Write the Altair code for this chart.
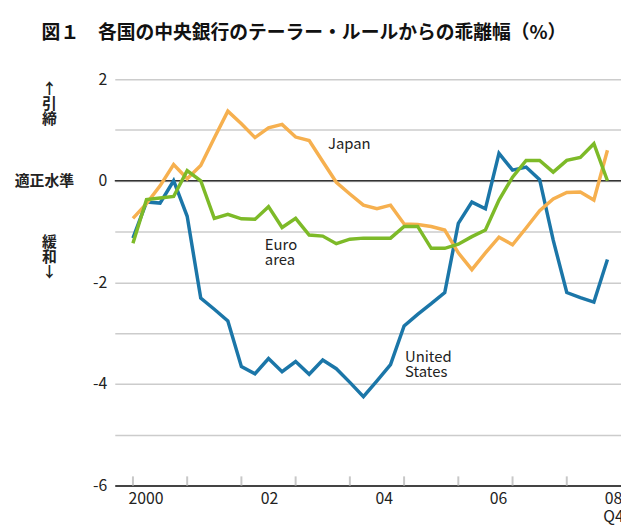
import altair as alt
import pandas as pd

# Quarterly observations 2000Q1 .. 2008Q4 (index 0..35)
quarters = list(range(36))
united_states = [-1.13, -0.42, -0.44, 0.00, -0.70, -2.31, -2.53, -2.76, -3.66, -3.80,
                 -3.50, -3.76, -3.56, -3.81, -3.53, -3.70, -3.97, -4.25, -3.94, -3.62,
                 -2.86, -2.63, -2.42, -2.20, -0.84, -0.42, -0.55, 0.54, 0.21, 0.27,
                 0.02, -1.17, -2.20, -2.30, -2.39, -1.55]
japan = [-0.74, -0.45, -0.10, 0.32, 0.04, 0.30, 0.84, 1.37, 1.12, 0.85,
         1.04, 1.11, 0.86, 0.79, 0.38, -0.03, -0.26, -0.48, -0.55, -0.48,
         -0.85, -0.86, -0.90, -0.97, -1.42, -1.75, -1.42, -1.11, -1.26, -0.93,
         -0.59, -0.36, -0.23, -0.22, -0.38, 0.60]
euro_area = [-1.23, -0.37, -0.34, -0.31, 0.20, 0.00, -0.74, -0.66, -0.75, -0.76,
             -0.51, -0.92, -0.74, -1.07, -1.09, -1.24, -1.15, -1.13, -1.13, -1.13,
             -0.90, -0.90, -1.33, -1.33, -1.25, -1.10, -0.97, -0.38, 0.07, 0.40,
             0.40, 0.17, 0.40, 0.46, 0.73, 0.00]

series_names = ["Euro area", "Japan", "United States"]
series_colors = ["#7dba28", "#f6b04f", "#1b76a8"]

# axis decoration values
y_ticks = [-6, -5, -4, -3, -2, -1, 0, 1, 2]
tick_quarters = [0, 4, 8, 12, 16, 20, 24, 28, 32]
year_labels = ["2000", "02", "04", "06", "08\nQ4"]
year_label_q = [0.96, 10.08, 18.54, 26.96, 35.45]

# in-plot annotations (value = first line's position)
note_texts = ["Japan", "Euro\narea", "United\nStates"]
note_q = [14.39, 9.73, 20.07]
note_v = [0.73, -1.26, -3.48]

# side labels (value = first line's position)
side_texts = ["↑\n引\n締", "適正水準", "緩\n和\n↓"]
side_q = [-6.16, -6.53, -6.16]
side_v = [1.80, 0.0, -1.21]

TITLE = "図１　各国の中央銀行のテーラー・ルールからの乖離幅（%）"
FONT = "Noto Sans CJK JP"

rows = []
for name, vals in [("United States", united_states), ("Japan", japan), ("Euro area", euro_area)]:
    for q, v in zip(quarters, vals):
        rows.append({"q": q, "v": v, "series": name})
df = pd.DataFrame(rows)

xscale = alt.Scale(domain=[-1.34, 36], nice=False, zero=False)
yscale = alt.Scale(domain=[-6, 2], nice=False, zero=False)

x_axis = alt.Axis(title=None, labels=False, ticks=False, grid=False,
                  domain=True, domainColor="#444444", domainWidth=2)
y_axis = alt.Axis(title=None, values=y_ticks, grid=True, gridColor="#cccccc",
                  gridWidth=1.5, domain=False, ticks=False, labelPadding=8,
                  labelFontSize=16, labelColor="#222222", labelFont=FONT,
                  labelExpr="datum.value % 2 == 0 ? '' + datum.value : ''")

base = alt.Chart(df)

zero_rule = alt.Chart(pd.DataFrame({"v": [0]})).mark_rule(
    color="#333333", strokeWidth=1.5
).encode(y=alt.Y("v:Q", scale=yscale, axis=y_axis))

tick_df = pd.DataFrame({"q": tick_quarters, "lo": [-6] * len(tick_quarters),
                        "hi": [-5.82] * len(tick_quarters)})
ticks = alt.Chart(tick_df).mark_rule(color="#c8c8c8", strokeWidth=2).encode(
    x=alt.X("q:Q", scale=xscale, axis=x_axis),
    y=alt.Y("lo:Q", scale=yscale),
    y2="hi:Q",
)

lines = base.mark_line(strokeWidth=3.5, strokeJoin="miter").encode(
    x=alt.X("q:Q", scale=xscale, axis=x_axis),
    y=alt.Y("v:Q", scale=yscale, axis=y_axis),
    color=alt.Color("series:N", scale=alt.Scale(domain=series_names, range=series_colors),
                    legend=None),
)

notes = alt.Chart(pd.DataFrame({"q": note_q, "v": note_v, "t": note_texts})).mark_text(
    align="left", baseline="middle", fontSize=15, font=FONT, color="#222222",
    lineBreak="\n", lineHeight=15
).encode(x=alt.X("q:Q", scale=xscale), y=alt.Y("v:Q", scale=yscale), text="t:N")

xlabels = alt.Chart(pd.DataFrame({"q": year_label_q, "t": year_labels})).mark_text(
    align="center", baseline="top", fontSize=16, font=FONT, color="#222222",
    lineBreak="\n", lineHeight=18, dy=6
).encode(x=alt.X("q:Q", scale=xscale), y=alt.datum(-6, scale=yscale), text="t:N")

side = alt.Chart(pd.DataFrame({"q": side_q, "v": side_v, "t": side_texts})).mark_text(
    align="center", baseline="middle", fontSize=15, font=FONT, color="#222222",
    fontWeight="bold", lineBreak="\n", lineHeight=15
).encode(x=alt.X("q:Q", scale=xscale), y=alt.Y("v:Q", scale=yscale), text="t:N")

chart = alt.layer(zero_rule, ticks, lines, notes, xlabels, side).properties(
    width=512,
    height=411,
    autosize=alt.AutoSizeParams(type="none"),
    padding={"left": 108, "top": 69, "right": 0, "bottom": 40},
    background="white",
    title=alt.TitleParams(TITLE, anchor="start", frame="group", dx=-74, offset=29,
                          fontSize=19, fontWeight="bold", font=FONT, color="#111111"),
).configure_view(stroke=None)

chart.save("out.html", embed_options={"renderer": "svg", "actions": False})
